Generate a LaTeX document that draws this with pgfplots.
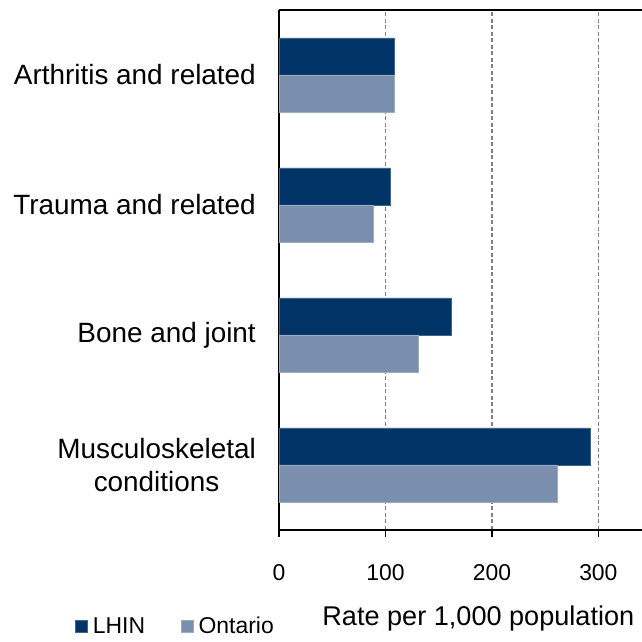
\documentclass[border=0pt]{standalone}
\usepackage{pgfplots}
\pgfplotsset{compat=1.18}
\usepackage{fontspec}
\setmainfont{Liberation Sans}
\definecolor{lhin}{RGB}{0,51,102}
\definecolor{ont}{RGB}{122,143,173}
\begin{document}
\begin{tikzpicture}[x=1bp,y=1bp]
\useasboundingbox (0,0) rectangle (642,642);
\begin{axis}[
  at={(279bp,112bp)}, anchor=south west,
  scale only axis, width=363bp, height=520bp,
  xbar,
  xmin=0, xmax=341, ymin=-0.5, ymax=3.5,
  axis x line*=box, axis y line*=left,
  axis line style={line width=1.8bp, black},
  xtick={0,100,200,300},
  xtick pos=lower,
  tick align=outside,
  major tick length=7bp,
  xtick style={black, line width=1.2bp},
  ytick={0,1,2,3},
  ytick style={draw=none},
  yticklabels={{Musculoskeletal\\conditions},{Bone and joint},{Trauma and related},{Arthritis and related}},
  yticklabel style={align=center, anchor=east, inner sep=0pt, xshift=-16bp, font=\fontsize{28}{33}\selectfont},
  xticklabel style={font=\fontsize{23}{26}\selectfont, yshift=-24bp, /pgf/number format/assume math mode=true},
  xmajorgrids,
  major grid style={dash pattern=on 4bp off 2.5bp, gray, line width=1.2bp},
  xlabel={Rate per 1,000 population},
  xlabel style={at={(rel axis cs:0.119,-0.1846)}, anchor=base west, inner sep=0pt, font=\fontsize{27.2}{30}\selectfont},
  legend columns=2,
  legend cell align=left,
  legend image code/.code={\path[#1] (0bp,-6bp) rectangle (12bp,6bp);},
  legend style={draw=none, fill=none, at={(-0.57,-0.185)}, anchor=west,
    font=\fontsize{23}{26}\selectfont,
    /tikz/every odd column/.append style={column sep=3bp},
    /tikz/every even column/.append style={column sep=34bp}},
]
\addplot[fill=lhin, draw=lhin!75!white, line width=0.6bp, bar width=0.285, bar shift=0.1425]
  coordinates {(292,0) (162,1) (104.5,2) (108,3)};
\addlegendentry{LHIN}
\addplot[fill=ont, draw=ont!75!white, line width=0.6bp, bar width=0.285, bar shift=-0.1425]
  coordinates {(261,0) (131,1) (88.5,2) (108,3)};
\addlegendentry{Ontario}
\end{axis}
\end{tikzpicture}
\end{document}
